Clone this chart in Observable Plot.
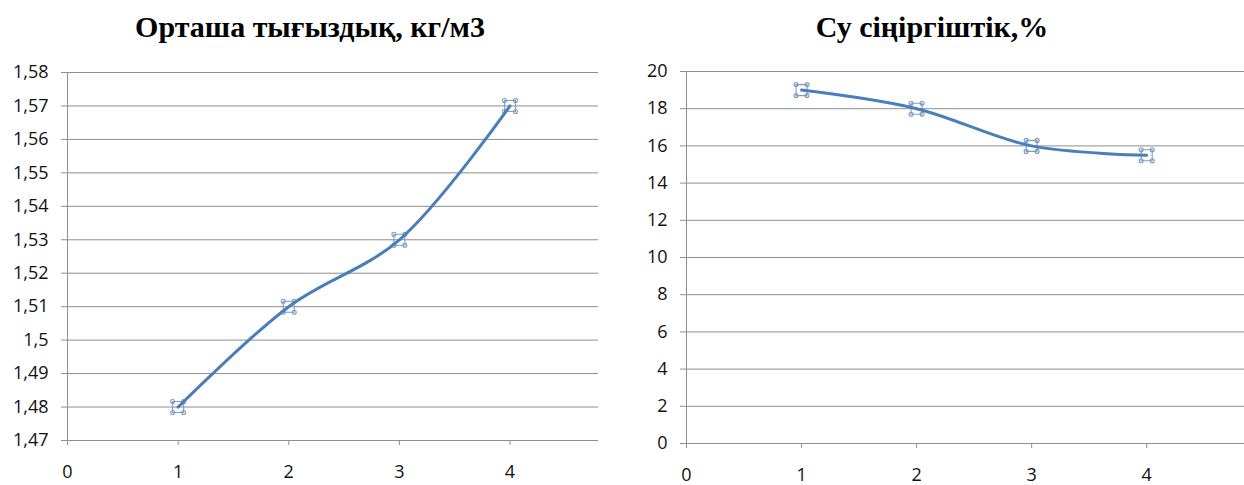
<!DOCTYPE html>
<html>
<head>
<meta charset="utf-8">
<script src="https://cdn.jsdelivr.net/npm/d3@7"></script>
<script src="https://cdn.jsdelivr.net/npm/@observablehq/plot@0.6"></script>
<style>
  html, body { margin: 0; padding: 0; background: #fff; }
  #wrap { position: relative; width: 1244px; height: 485px; overflow: hidden; }
  .panel { position: absolute; top: 0; }
  .title {
    position: absolute; top: 9px; left: 0; right: 0; text-align: center;
    font-family: "Liberation Serif", "Times New Roman", serif; font-weight: bold;
    font-size: 30px; line-height: 36px; color: #000;
  }
  .panel svg { position: absolute; top: 0; left: 0; }
</style>
</head>
<body>
<div id="wrap"></div>
<script>
// Series
const samples = [1, 2, 3, 4];
const density = [1.48, 1.51, 1.53, 1.57];
const absorption = [19, 18, 16, 15.5];

// Axis ticks and titles
const xTicks = [0, 1, 2, 3, 4];
const densityTicks = [1.47, 1.48, 1.49, 1.5, 1.51, 1.52, 1.53, 1.54, 1.55, 1.56, 1.57, 1.58];
const absorptionTicks = [0, 2, 4, 6, 8, 10, 12, 14, 16, 18, 20];
const densityTitle = "Орташа тығыздық, кг/м3";
const absorptionTitle = "Су сіңіргіштік,%";

const lineColor = "#4a7ebb";
const gridColor = "#8e8e8e";
const labelFont = "'Open Sans', sans-serif";
const labelSize = 18;
const comma = v => String(Math.round(v * 100) / 100).replace(".", ",");

// Selection-handle style marker: a square with small rings at its corners
const handleSymbol = {
  draw(context) {
    const h = 5.5, r = 2;
    context.moveTo(-h, -h); context.lineTo(h, -h); context.lineTo(h, h); context.lineTo(-h, h); context.closePath();
    for (const [cx, cy] of [[-h, -h], [h, -h], [h, h], [-h, h]]) {
      context.moveTo(cx + r, cy);
      context.arc(cx, cy, r, 0, 2 * Math.PI);
    }
  }
};

function panel({left, width, title, values, yDomain, yTicks, xMax, margins, fmt}) {
  const data = samples.map((x, i) => ({x, y: values[i]}));
  const div = document.createElement("div");
  div.className = "panel";
  div.style.left = left + "px";
  div.style.width = width + "px";
  div.style.height = "485px";
  const t = document.createElement("div");
  t.className = "title";
  t.textContent = title;
  const chart = Plot.plot({
    width, height: 485,
    marginLeft: margins[0], marginRight: margins[1], marginTop: margins[2], marginBottom: margins[3],
    style: {background: "transparent"},
    x: {domain: [0, xMax], ticks: xTicks},
    y: {domain: yDomain, ticks: yTicks},
    marks: [
      // horizontal gridlines and the vertical value axis line
      Plot.ruleY(yTicks, {stroke: gridColor, strokeWidth: 1}),
      Plot.ruleX([0], {stroke: gridColor, strokeWidth: 1}),
      // tick marks (labels are drawn as text marks)
      Plot.axisX({ticks: xTicks, tickFormat: () => "", tickSize: 5, stroke: gridColor, label: null}),
      Plot.axisY({ticks: yTicks, tickFormat: () => "", tickSize: 6, stroke: gridColor, label: null}),
      Plot.text(yTicks, {x: 0, y: d => d, text: fmt, textAnchor: "end", dx: -19, fill: "#111", fontSize: labelSize, fontFamily: labelFont}),
      Plot.text(xTicks, {x: d => d, y: yDomain[0], text: d => String(d), dy: 32, fill: "#111", fontSize: labelSize, fontFamily: labelFont}),
      // data markers and the smoothed series line
      Plot.dot(data, {x: "x", y: "y", symbol: handleSymbol, stroke: "#7e9cc0", strokeWidth: 1.1, fill: "none", r: 5}),
      Plot.line(data, {x: "x", y: "y", curve: "catmull-rom", stroke: lineColor, strokeWidth: 3})
    ]
  });
  div.appendChild(chart);
  div.appendChild(t);
  document.getElementById("wrap").appendChild(div);
}

panel({left: 0, width: 620, title: densityTitle, values: density, yDomain: [1.47, 1.58],
  yTicks: densityTicks, xMax: 4.8, margins: [67, 22, 72, 45], fmt: comma});
panel({left: 620, width: 624, title: absorptionTitle, values: absorption, yDomain: [0, 20],
  yTicks: absorptionTicks, xMax: 4.85, margins: [66, 0, 71, 42], fmt: d => String(d)});
</script>
</body>
</html>
